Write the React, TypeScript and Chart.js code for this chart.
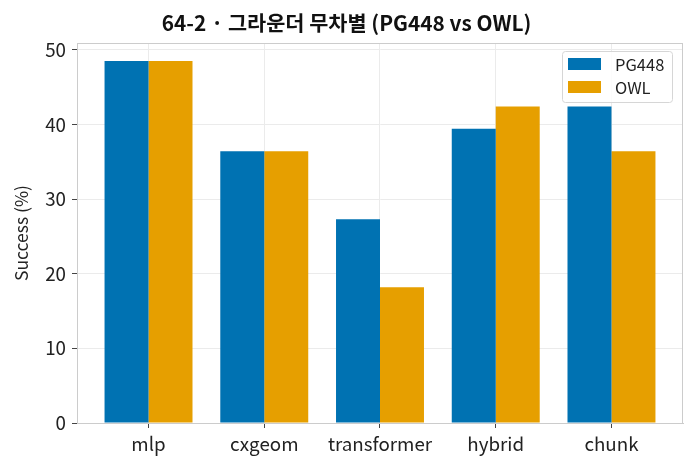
import React, { useEffect, useRef } from "react";
import { Chart, registerables } from "chart.js";

Chart.register(...registerables);

const categories = ["mlp", "cxgeom", "transformer", "hybrid", "chunk"];
const pg448 = [48.5, 36.4, 27.3, 39.4, 42.4];
const owl = [48.5, 36.4, 18.2, 42.4, 36.4];
const seriesNames = ["PG448", "OWL"];
const seriesColors = ["#0072B2", "#E69F00"];
const yTicks = [0, 10, 20, 30, 40, 50];
const titleText = "64-2 · 그라운더 무차별 (PG448 vs OWL)";
const yLabel = "Success (%)";

const FONT = "'Noto Sans CJK KR', 'Noto Sans', sans-serif";

const decorPlugin = {
  id: "decor",
  afterDatasetsDraw(chart: any) {
    const { ctx, chartArea } = chart;
    const { left, right, top, bottom } = chartArea;
    ctx.save();
    ctx.strokeStyle = "#cccccc";
    ctx.lineWidth = 1;
    ctx.strokeRect(left + 0.5, top + 0.5, right - left - 1, bottom - top);
    ctx.fillStyle = "#111111";
    ctx.font = `bold 20.8px ${FONT}`;
    ctx.textAlign = "center";
    ctx.textBaseline = "middle";
    ctx.fillText(titleText, chart.width / 2, 23);
    const bx = right - 121, by = top + 8, bw = 110, bh = 51;
    ctx.fillStyle = "rgba(255,255,255,0.85)";
    ctx.strokeStyle = "#d6d6d6";
    ctx.beginPath();
    (ctx as any).roundRect(bx + 0.5, by + 0.5, bw, bh, 3);
    ctx.fill();
    ctx.stroke();
    ctx.font = `16.5px ${FONT}`;
    ctx.textAlign = "left";
    seriesNames.forEach((name, i) => {
      const ry = by + 7 + i * 23;
      ctx.fillStyle = seriesColors[i];
      ctx.fillRect(bx + 6, ry, 33, 12);
      ctx.fillStyle = "#222222";
      ctx.fillText(name, bx + 53, ry + 7);
    });
    ctx.restore();
  },
};

export default function App() {
  const ref = useRef<HTMLCanvasElement>(null);
  useEffect(() => {
    if (!ref.current) return;
    const mk = (vals: number[]) => vals.map((v, i) => ({ x: i, y: v }));
    const chart = new Chart(ref.current, {
      type: "bar",
      data: {
        datasets: [
          { label: seriesNames[0], data: mk(pg448), backgroundColor: seriesColors[0], categoryPercentage: 0.76, barPercentage: 1.0 },
          { label: seriesNames[1], data: mk(owl), backgroundColor: seriesColors[1], categoryPercentage: 0.76, barPercentage: 1.0 },
        ],
      },
      options: {
        animation: false,
        responsive: false,
        maintainAspectRatio: false,
        layout: { padding: { top: 43, right: 10, left: 0, bottom: 0 } },
        plugins: { legend: { display: false }, title: { display: false }, tooltip: { enabled: false } },
        scales: {
          x: {
            type: "linear",
            offset: false,
            min: -0.618,
            max: 4.618,
            afterBuildTicks: (s: any) => {
              s.ticks = categories.map((_, i) => ({ value: i }));
            },
            afterFit: (s: any) => {
              s.height = 45;
            },
            ticks: {
              callback: (v: any) => categories[v] ?? "",
              font: { family: FONT, size: 18.75 },
              color: "#222222",
              padding: 5,
              maxRotation: 0,
              autoSkip: false,
            },
            grid: { offset: false, color: "#ebebeb", tickColor: "#444444", tickLength: 5, drawTicks: true },
            border: { display: true, color: "#cccccc" },
          },
          y: {
            min: 0,
            max: 50.9,
            afterBuildTicks: (s: any) => {
              s.ticks = yTicks.map((v) => ({ value: v }));
            },
            afterFit: (s: any) => {
              s.width = 77;
            },
            ticks: {
              font: { family: FONT, size: 18.75 },
              color: "#222222",
              padding: 6,
            },
            grid: { color: "#ebebeb", tickColor: "#444444", tickLength: 5 },
            border: { display: true, color: "#cccccc" },
            title: {
              display: true,
              text: yLabel,
              font: { family: FONT, size: 17.5 },
              color: "#222222",
              padding: { top: 11, bottom: 0 },
            },
          },
        },
      },
      plugins: [decorPlugin],
    } as any);
    return () => chart.destroy();
  }, []);
  return (
    <div style={{ position: "absolute", left: 0, top: 0, width: 693, height: 468, background: "#fff" }}>
      <canvas ref={ref} width={693} height={468} style={{ width: 693, height: 468 }} />
    </div>
  );
}
